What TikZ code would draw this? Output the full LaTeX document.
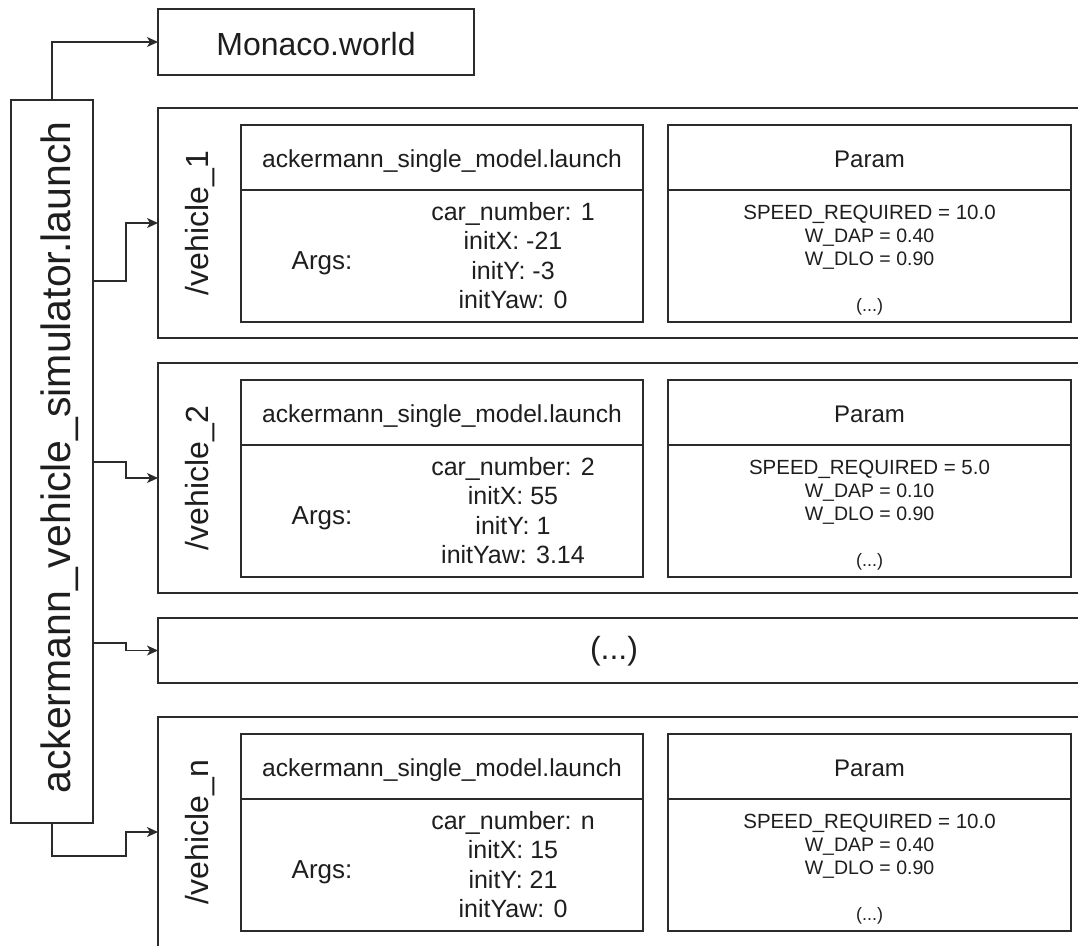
\documentclass[tikz,border=0pt]{standalone}
\usepackage{fontspec}
\setmainfont{Liberation Sans}
\usetikzlibrary{arrows.meta}
\definecolor{linec}{HTML}{2B2B2B}
\definecolor{txtc}{HTML}{1E1E1E}
\newcommand\fs[1]{\fontsize{#1}{1.2\dimexpr #1pt\relax}\selectfont}
\newcommand\vblock[8]{%
  \node[box, minimum width=940pt, minimum height=230pt, anchor=north west] (V#1) at (158,#2) {};
  \node[txt, rotate=90, anchor=base, font=\fs{32}] (V#1l) at (208,{#2+115}) {/vehicle\_#1};
  % launch box
  \node[box, minimum width=402pt, minimum height=197pt, anchor=north west] (A#1) at (241,{#2+17}) {};
  \draw[sep] (A#1.north west) ++(0,65) coordinate (A#1d) -- (A#1d -| A#1.east);
  \node[txt, anchor=base, font=\fs{24.6}] (A#1h) at (442,{#2+59}) {ackermann\_single\_model.launch};
  \node[txt, anchor=base, font=\fs{26}] (A#1a) at (322,{#2+161}) {Args:};
  \node[txt, anchor=base, font=\fs{25}] (A#1v1) at (513,{#2+112}) {car\_number: #3};
  \node[txt, anchor=base, font=\fs{25}] (A#1v2) at (513,{#2+141.5}) {initX: #4};
  \node[txt, anchor=base, font=\fs{25}] (A#1v3) at (513,{#2+171}) {initY: #5};
  \node[txt, anchor=base, font=\fs{25}] (A#1v4) at (513,{#2+200.5}) {initYaw: #6};
  % param box
  \node[box, minimum width=403pt, minimum height=197pt, anchor=north west] (P#1) at (668,{#2+17}) {};
  \draw[sep] (P#1.north west) ++(0,65) coordinate (P#1d) -- (P#1d -| P#1.east);
  \node[txt, anchor=base, font=\fs{24}] (P#1h) at (869.5,{#2+59}) {Param};
  \node[txt, anchor=base, font=\fs{20.5}] (P#1v1) at (869.5,{#2+111}) {SPEED\_REQUIRED = #7};
  \node[txt, anchor=base, font=\fs{19.5}] (P#1v2) at (869.5,{#2+134}) {W\_DAP = #8};
  \node[txt, anchor=base, font=\fs{19.5}] (P#1v3) at (869.5,{#2+157}) {W\_DLO = 0.90};
  \node[txt, anchor=base, font=\fs{18}] (P#1v4) at (869.5,{#2+203}) {(...)};
}
\begin{document}
\begin{tikzpicture}[x=1pt,y=-1pt,
  box/.style={draw=linec, line width=1.3pt, inner sep=0pt, outer sep=0pt},
  sep/.style={draw=linec, line width=1.3pt},
  conn/.style={draw=linec, line width=1.3pt, -{Stealth[length=11pt,width=10pt,inset=3pt]}},
  txt/.style={text=txtc, inner sep=0pt, outer sep=0pt},
]
\useasboundingbox (0,0) rectangle (1078,945);
\begin{scope}
\clip (0,0) rectangle (1078,945);
\fill[white] (0,0) rectangle (1078,945);
% left launch box
\node[box, minimum width=82pt, minimum height=723pt, anchor=north west] (L) at (11,100) {};
\node[txt, rotate=90, anchor=base, font=\fs{41}] (Ll) at (70,457.5) {ackermann\_vehicle\_simulator.launch};
% Monaco world
\node[box, minimum width=316pt, minimum height=66pt, anchor=north west] (M) at (158,9) {};
\node[txt, anchor=base, font=\fs{32}] (Mt) at (316,55) {Monaco.world};
% vehicles
\vblock{1}{108}{1}{-21}{-3}{0}{10.0}{0.40}
\vblock{2}{363}{2}{55}{1}{3.14}{5.0}{0.10}
\vblock{n}{717}{n}{15}{21}{0}{10.0}{0.40}
% dots box
\node[box, minimum width=940pt, minimum height=65pt, anchor=north west] (D) at (158,618) {};
\node[txt, font=\fs{32}] (Dt) at (614,651) {(...)};
% connectors
\draw[conn] (L.north) |- (M.west);
\draw[conn] (L.east |- 0,281) -- (126,281) |- (V1.west);
\draw[conn] (L.east |- 0,462) -- (126,462) |- (V2.west);
\draw[conn] (L.east |- 0,643) -- (126,643) |- (D.west);
\draw[conn] (L.south) |- (126,856) |- (Vn.west);
\end{scope}
\end{tikzpicture}
\end{document}
